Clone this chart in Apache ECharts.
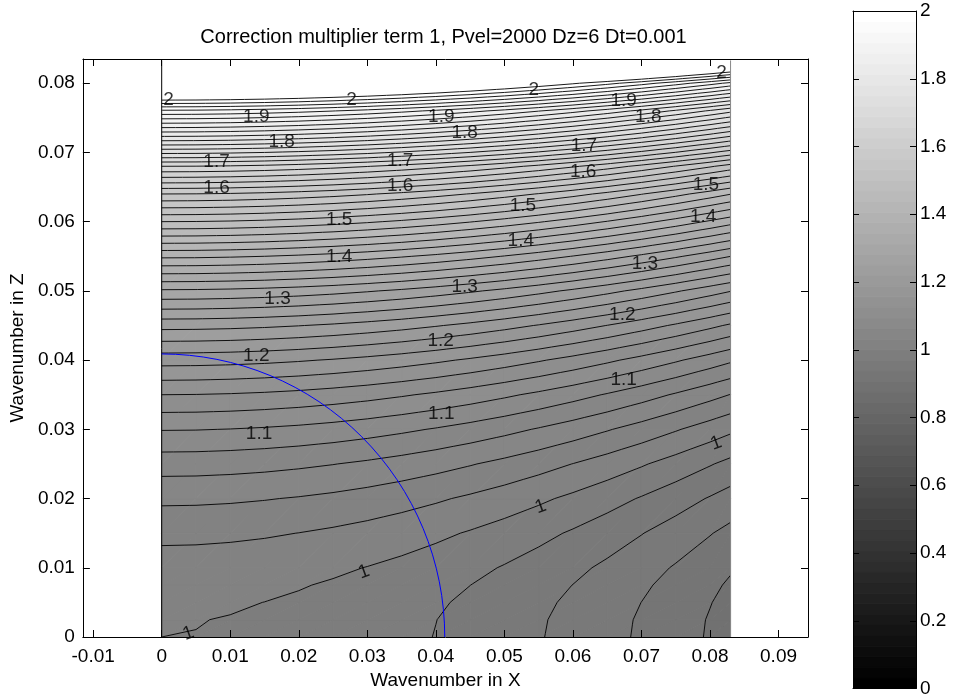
<!DOCTYPE html>
<html>
<head>
  <meta charset="UTF-8">
  <title>Correction multiplier term 1</title>
  <script src="https://cdn.jsdelivr.net/npm/echarts@6/dist/echarts.min.js"></script>
  <style>
    html, body { margin: 0; padding: 0; background: #fff; }
    #main { width: 954px; height: 698px; }
  </style>
</head>
<body>
<div id="main"></div>
<script type="text/javascript">
  // tick labels
  var xTicks = [-0.01, 0, 0.01, 0.02, 0.03, 0.04, 0.05, 0.06, 0.07, 0.08, 0.09];
  var zTicks = [0, 0.01, 0.02, 0.03, 0.04, 0.05, 0.06, 0.07, 0.08];
  var barTicks = [0, 0.2, 0.4, 0.6, 0.8, 1, 1.2, 1.4, 1.6, 1.8, 2];

  // grid nodes of the multiplier field
  var kx = [0, 0.005, 0.01, 0.015, 0.02, 0.025, 0.03, 0.035, 0.04, 0.045,
            0.05, 0.055, 0.06, 0.065, 0.07, 0.075, 0.08, 0.083];
  var kz = [0, 0.0025, 0.005, 0.0075, 0.01, 0.015, 0.02, 0.025, 0.03, 0.035, 0.04,
            0.045, 0.05, 0.055, 0.06, 0.064, 0.068, 0.072, 0.076, 0.08, 0.0833];

  // one row per kz value, one column per kx value
  var field = [
    [1.0000, 0.9997, 0.9987, 0.9971, 0.9949, 0.9920, 0.9885, 0.9843, 0.9795, 0.9741, 0.9680, 0.9613, 0.9539, 0.9459, 0.9373, 0.9280, 0.9181, 0.9118],
    [1.0007, 1.0004, 0.9994, 0.9978, 0.9956, 0.9927, 0.9892, 0.9850, 0.9802, 0.9748, 0.9687, 0.9620, 0.9546, 0.9466, 0.9379, 0.9287, 0.9187, 0.9125],
    [1.0028, 1.0025, 1.0015, 0.9999, 0.9977, 0.9948, 0.9913, 0.9871, 0.9823, 0.9768, 0.9707, 0.9640, 0.9566, 0.9486, 0.9399, 0.9306, 0.9207, 0.9144],
    [1.0062, 1.0059, 1.0049, 1.0033, 1.0011, 0.9982, 0.9946, 0.9904, 0.9856, 0.9801, 0.9740, 0.9672, 0.9598, 0.9518, 0.9431, 0.9338, 0.9238, 0.9175],
    [1.0111, 1.0108, 1.0098, 1.0082, 1.0059, 1.0030, 0.9995, 0.9953, 0.9904, 0.9849, 0.9787, 0.9720, 0.9645, 0.9564, 0.9477, 0.9383, 0.9283, 0.9219],
    [1.0250, 1.0247, 1.0237, 1.0221, 1.0198, 1.0168, 1.0132, 1.0089, 1.0040, 0.9984, 0.9922, 0.9853, 0.9778, 0.9696, 0.9607, 0.9512, 0.9410, 0.9346],
    [1.0440, 1.0437, 1.0427, 1.0410, 1.0387, 1.0357, 1.0320, 1.0276, 1.0226, 1.0169, 1.0106, 1.0036, 0.9959, 0.9875, 0.9785, 0.9688, 0.9585, 0.9519],
    [1.0690, 1.0687, 1.0676, 1.0659, 1.0635, 1.0605, 1.0567, 1.0522, 1.0471, 1.0413, 1.0348, 1.0276, 1.0197, 1.0112, 1.0020, 0.9920, 0.9814, 0.9747],
    [1.1010, 1.1007, 1.0996, 1.0978, 1.0954, 1.0922, 1.0883, 1.0837, 1.0785, 1.0725, 1.0658, 1.0584, 1.0503, 1.0415, 1.0320, 1.0217, 1.0108, 1.0039],
    [1.1400, 1.1396, 1.1385, 1.1367, 1.1342, 1.1309, 1.1269, 1.1221, 1.1167, 1.1105, 1.1035, 1.0959, 1.0875, 1.0784, 1.0685, 1.0579, 1.0466, 1.0395],
    [1.1880, 1.1876, 1.1865, 1.1846, 1.1819, 1.1785, 1.1743, 1.1694, 1.1637, 1.1572, 1.1500, 1.1420, 1.1333, 1.1238, 1.1135, 1.1025, 1.0907, 1.0832],
    [1.2470, 1.2466, 1.2454, 1.2434, 1.2406, 1.2370, 1.2326, 1.2275, 1.2215, 1.2147, 1.2071, 1.1987, 1.1895, 1.1796, 1.1688, 1.1572, 1.1449, 1.1370],
    [1.3170, 1.3166, 1.3153, 1.3132, 1.3103, 1.3065, 1.3018, 1.2964, 1.2900, 1.2829, 1.2749, 1.2660, 1.2563, 1.2458, 1.2344, 1.2222, 1.2091, 1.2009],
    [1.4040, 1.4036, 1.4022, 1.4000, 1.3968, 1.3928, 1.3878, 1.3820, 1.3753, 1.3676, 1.3591, 1.3496, 1.3393, 1.3281, 1.3159, 1.3029, 1.2890, 1.2802],
    [1.5000, 1.4995, 1.4981, 1.4957, 1.4923, 1.4880, 1.4827, 1.4765, 1.4693, 1.4611, 1.4520, 1.4419, 1.4309, 1.4189, 1.4059, 1.3920, 1.3771, 1.3677],
    [1.5800, 1.5795, 1.5780, 1.5755, 1.5719, 1.5674, 1.5618, 1.5552, 1.5476, 1.5391, 1.5294, 1.5188, 1.5072, 1.4946, 1.4809, 1.4662, 1.4506, 1.4407],
    [1.6800, 1.6795, 1.6779, 1.6752, 1.6714, 1.6666, 1.6607, 1.6537, 1.6456, 1.6365, 1.6262, 1.6150, 1.6026, 1.5892, 1.5746, 1.5590, 1.5424, 1.5319],
    [1.8100, 1.8094, 1.8077, 1.8048, 1.8007, 1.7955, 1.7892, 1.7816, 1.7729, 1.7631, 1.7521, 1.7399, 1.7266, 1.7121, 1.6965, 1.6797, 1.6617, 1.6504],
    [1.9360, 1.9354, 1.9335, 1.9304, 1.9261, 1.9205, 1.9137, 1.9056, 1.8964, 1.8858, 1.8741, 1.8610, 1.8468, 1.8313, 1.8146, 1.7966, 1.7774, 1.7653],
    [2.1000, 2.0993, 2.0973, 2.0940, 2.0893, 2.0832, 2.0758, 2.0671, 2.0570, 2.0456, 2.0328, 2.0187, 2.0032, 1.9864, 1.9683, 1.9488, 1.9280, 1.9148],
    [2.2900, 2.2893, 2.2871, 2.2834, 2.2783, 2.2717, 2.2636, 2.2541, 2.2431, 2.2306, 2.2167, 2.2013, 2.1845, 2.1662, 2.1464, 2.1251, 2.1024, 2.0881]
  ];

  // contour levels
  var levels = [0.92, 0.94, 0.96, 0.98, 1, 1.02, 1.04, 1.06, 1.08, 1.1, 1.12, 1.14,
                1.16, 1.18, 1.2, 1.22, 1.24, 1.26, 1.28, 1.3, 1.32, 1.34, 1.36,
                1.38, 1.4, 1.42, 1.44, 1.46, 1.48, 1.5, 1.52, 1.54, 1.56, 1.58,
                1.6, 1.62, 1.64, 1.66, 1.68, 1.7, 1.72, 1.74, 1.76, 1.78, 1.8,
                1.82, 1.84, 1.86, 1.88, 1.9, 1.92, 1.94, 1.96, 1.98, 2];

  // contour labels: text, kx, kz
  var contourLabels = [
    ['2', 0.001, 0.0776], ['2', 0.0277, 0.0776], ['2', 0.0543, 0.0790], ['2', 0.0817, 0.0815],
    ['1.9', 0.0138, 0.0751], ['1.9', 0.0408, 0.0752], ['1.9', 0.0674, 0.0775],
    ['1.8', 0.0175, 0.0716], ['1.8', 0.0442, 0.0728], ['1.8', 0.0710, 0.0751],
    ['1.7', 0.0080, 0.0687], ['1.7', 0.0348, 0.0688], ['1.7', 0.0616, 0.0709],
    ['1.6', 0.0080, 0.0649], ['1.6', 0.0348, 0.0652], ['1.6', 0.0615, 0.0672],
    ['1.5', 0.0259, 0.0603], ['1.5', 0.0527, 0.0623], ['1.5', 0.0794, 0.0653],
    ['1.4', 0.0259, 0.0550], ['1.4', 0.0524, 0.0572], ['1.4', 0.0790, 0.0607],
    ['1.3', 0.0169, 0.0489], ['1.3', 0.0442, 0.0506], ['1.3', 0.0705, 0.0539],
    ['1.2', 0.0138, 0.0406], ['1.2', 0.0407, 0.0428], ['1.2', 0.0672, 0.0465],
    ['1.1', 0.0142, 0.0294], ['1.1', 0.0408, 0.0322], ['1.1', 0.0674, 0.0371],
    ['1', 0.0039, 0.0005], ['1', 0.0295, 0.0094], ['1', 0.0553, 0.0188], ['1', 0.0809, 0.0280]
  ];

  var circleRadius = 0.0413;

  var FONT = "'Liberation Sans', Arial, Helvetica, sans-serif";

  // gray(64) colormap with colour limits [0 2]
  function grayOf(v) {
    var idx = Math.floor(v / 2 * 64);
    idx = Math.max(0, Math.min(63, idx));
    var g = Math.round(idx / 63 * 255);
    return 'rgb(' + g + ',' + g + ',' + g + ')';
  }

  // split every grid cell into two triangles: points are [kx, kz, value]
  var triangles = [];
  for (var j = 0; j < kz.length - 1; j++) {
    for (var i = 0; i < kx.length - 1; i++) {
      var p00 = [kx[i], kz[j], field[j][i]];
      var p10 = [kx[i + 1], kz[j], field[j][i + 1]];
      var p01 = [kx[i], kz[j + 1], field[j + 1][i]];
      var p11 = [kx[i + 1], kz[j + 1], field[j + 1][i + 1]];
      triangles.push([p00, p10, p11]);
      triangles.push([p00, p11, p01]);
    }
  }

  // bands between levels, the colour comes from the lower level
  var bands = [[-Infinity, levels[0], levels[0] - 0.02]];
  for (var b = 0; b < levels.length - 1; b++) {
    bands.push([levels[b], levels[b + 1], levels[b]]);
  }
  bands.push([levels[levels.length - 1], Infinity, levels[levels.length - 1]]);

  function clipPoly(poly, lvl, keepAbove) {
    var out = [];
    for (var k = 0; k < poly.length; k++) {
      var a = poly[k], c = poly[(k + 1) % poly.length];
      var ina = keepAbove ? a[2] >= lvl : a[2] < lvl;
      var inc = keepAbove ? c[2] >= lvl : c[2] < lvl;
      if (ina) out.push(a);
      if (ina !== inc) {
        var t = (lvl - a[2]) / (c[2] - a[2]);
        out.push([a[0] + (c[0] - a[0]) * t, a[1] + (c[1] - a[1]) * t, lvl]);
      }
    }
    return out;
  }

  function renderFill(params, api) {
    var children = [];
    triangles.forEach(function (tri) {
      var vmin = Math.min(tri[0][2], tri[1][2], tri[2][2]);
      var vmax = Math.max(tri[0][2], tri[1][2], tri[2][2]);
      bands.forEach(function (band) {
        if (band[1] <= vmin || band[0] > vmax) return;
        var poly = clipPoly(clipPoly(tri, band[0], true), band[1], false);
        if (poly.length < 3) return;
        var col = grayOf(band[2]);
        children.push({
          type: 'polygon',
          shape: { points: poly.map(function (p) { return api.coord([p[0], p[1]]); }) },
          style: { fill: col, stroke: col, lineWidth: 1 },
          silent: true
        });
      });
    });
    return { type: 'group', children: children };
  }

  function renderContours(params, api) {
    var children = [];
    levels.forEach(function (lvl) {
      triangles.forEach(function (tri) {
        var pts = [];
        for (var k = 0; k < 3; k++) {
          var a = tri[k], c = tri[(k + 1) % 3];
          if ((a[2] >= lvl) !== (c[2] >= lvl)) {
            var t = (lvl - a[2]) / (c[2] - a[2]);
            pts.push(api.coord([a[0] + (c[0] - a[0]) * t, a[1] + (c[1] - a[1]) * t]));
          }
        }
        if (pts.length === 2) {
          children.push({
            type: 'line',
            shape: { x1: pts[0][0], y1: pts[0][1], x2: pts[1][0], y2: pts[1][1] },
            style: { stroke: '#000', lineWidth: 0.9 },
            silent: true
          });
        }
      });
    });
    return { type: 'group', children: children };
  }

  function renderCircle(params, api) {
    var c = api.coord([0, 0]);
    var r = api.size([circleRadius, 0])[0];
    return {
      type: 'arc',
      shape: { cx: c[0], cy: c[1], r: r, startAngle: -Math.PI / 2, endAngle: 0, clockwise: true },
      style: { stroke: '#0000ff', fill: null, lineWidth: 1 },
      silent: true
    };
  }

  function renderEdge(params, api) {
    var x = api.value(0);
    var p1 = api.coord([x, kz[0]]);
    var p2 = api.coord([x, kz[kz.length - 1]]);
    return {
      type: 'line',
      shape: { x1: p1[0], y1: p1[1], x2: p2[0], y2: p2[1] },
      style: { stroke: params.dataIndex === 0 ? '#000' : '#888', lineWidth: 1 },
      silent: true
    };
  }

  var cmapSteps = [];
  for (var s = 0; s < 64; s++) cmapSteps.push([s]);

  function renderBar(params, api) {
    var s = api.value(0);
    var p1 = api.coord([0, (s + 1) / 32]);
    var p2 = api.coord([1, s / 32]);
    var col = grayOf(s / 32);
    return {
      type: 'rect',
      shape: { x: p1[0], y: p1[1], width: p2[0] - p1[0], height: p2[1] - p1[1] },
      style: { fill: col, stroke: col, lineWidth: 1 },
      silent: true
    };
  }

  function fmt(v) { return String(v); }

  var nameText = { fontSize: 19, color: '#000', fontFamily: FONT };

  function ticksOnly(custom, pos, gridIndex, min, max) {
    return {
      gridIndex: gridIndex, type: 'value', position: pos, min: min, max: max, z: 10,
      axisLine: { show: true, onZero: false, lineStyle: { color: '#000', width: 1 } },
      axisTick: { show: true, inside: true, length: 7, customValues: custom, lineStyle: { color: '#000' } },
      axisLabel: { show: false },
      splitLine: { show: false }
    };
  }

  var barLeft = ticksOnly(barTicks, 'left', 1, 0, 2);
  barLeft.axisTick.length = 6;
  var barTop = ticksOnly([], 'top', 1, 0, 1);
  barTop.axisTick.show = false;

  var option = {
    animation: false,
    backgroundColor: '#fff',
    textStyle: { fontFamily: FONT },
    graphic: [{
      type: 'text', x: 443.5, y: 37,
      style: {
        text: 'Correction multiplier term 1, Pvel=2000 Dz=6 Dt=0.001',
        font: '20px ' + FONT, fill: '#000', textAlign: 'center', textVerticalAlign: 'middle'
      }
    }],
    grid: [
      { left: 79, top: 59, width: 729, height: 578 },
      { left: 853, top: 11, width: 63, height: 680 }
    ],
    xAxis: [
      {
        gridIndex: 0, type: 'value', position: 'bottom', min: -0.0115, max: 0.0943, z: 10,
        axisLine: { show: true, onZero: false, lineStyle: { color: '#000', width: 1 } },
        axisTick: { show: true, inside: true, length: 7, customValues: xTicks, lineStyle: { color: '#000' } },
        axisLabel: { customValues: xTicks, formatter: fmt, margin: 10, fontSize: 19, color: '#000', fontFamily: FONT },
        splitLine: { show: false },
        name: 'Wavenumber in X', nameLocation: 'middle', nameGap: 34,
        nameTextStyle: nameText
      },
      ticksOnly(xTicks, 'top', 0, -0.0115, 0.0943),
      {
        gridIndex: 1, type: 'value', position: 'bottom', min: 0, max: 1, z: 10,
        axisLine: { show: true, onZero: false, lineStyle: { color: '#000', width: 1 } },
        axisTick: { show: false }, axisLabel: { show: false }, splitLine: { show: false }
      },
      barTop
    ],
    yAxis: [
      {
        gridIndex: 0, type: 'value', position: 'left', min: 0, max: 0.0835, z: 10,
        axisLine: { show: true, onZero: false, lineStyle: { color: '#000', width: 1 } },
        axisTick: { show: true, inside: true, length: 7, customValues: zTicks, lineStyle: { color: '#000' } },
        axisLabel: { customValues: zTicks, formatter: fmt, margin: 8, fontSize: 19, color: '#000', fontFamily: FONT },
        splitLine: { show: false },
        name: 'Wavenumber in Z', nameLocation: 'middle', nameGap: 45,
        nameTextStyle: nameText
      },
      ticksOnly(zTicks, 'right', 0, 0, 0.0835),
      {
        gridIndex: 1, type: 'value', position: 'right', min: 0, max: 2, z: 10,
        axisLine: { show: true, onZero: false, lineStyle: { color: '#000', width: 1 } },
        axisTick: { show: true, inside: true, length: 6, customValues: barTicks, lineStyle: { color: '#000' } },
        axisLabel: { customValues: barTicks, formatter: fmt, margin: 4, fontSize: 19, color: '#000', fontFamily: FONT },
        splitLine: { show: false }
      },
      barLeft
    ],
    series: [
      {
        name: 'fill', type: 'custom', xAxisIndex: 0, yAxisIndex: 0,
        data: [[0, 0]], renderItem: renderFill, clip: true, z: 1, silent: true
      },
      {
        name: 'contours', type: 'custom', xAxisIndex: 0, yAxisIndex: 0,
        data: [[0, 0]], renderItem: renderContours, clip: true, z: 2, silent: true
      },
      {
        name: 'edges', type: 'custom', xAxisIndex: 0, yAxisIndex: 0,
        data: [[kx[0]], [kx[kx.length - 1]]], renderItem: renderEdge, z: 3, silent: true
      },
      {
        name: 'circle', type: 'custom', xAxisIndex: 0, yAxisIndex: 0,
        data: [[0, 0]], renderItem: renderCircle, clip: true, z: 4, silent: true
      },
      {
        name: 'labels', type: 'scatter', xAxisIndex: 0, yAxisIndex: 0,
        symbolSize: 1, itemStyle: { color: 'rgba(0,0,0,0)' }, silent: true, z: 5,
        data: contourLabels.map(function (d) {
          var item = { name: d[0], value: [d[1], d[2]] };
          if (d[0] === '1') item.label = { rotate: 20 };
          return item;
        }),
        label: { show: true, position: 'inside', formatter: '{b}', fontSize: 19, color: '#000', fontFamily: FONT }
      },
      {
        name: 'colorbar', type: 'custom', xAxisIndex: 2, yAxisIndex: 2,
        data: cmapSteps, renderItem: renderBar, clip: true, z: 1, silent: true
      }
    ]
  };

  var myChart = echarts.init(document.getElementById('main'));
  myChart.setOption(option);
</script>
</body>
</html>
